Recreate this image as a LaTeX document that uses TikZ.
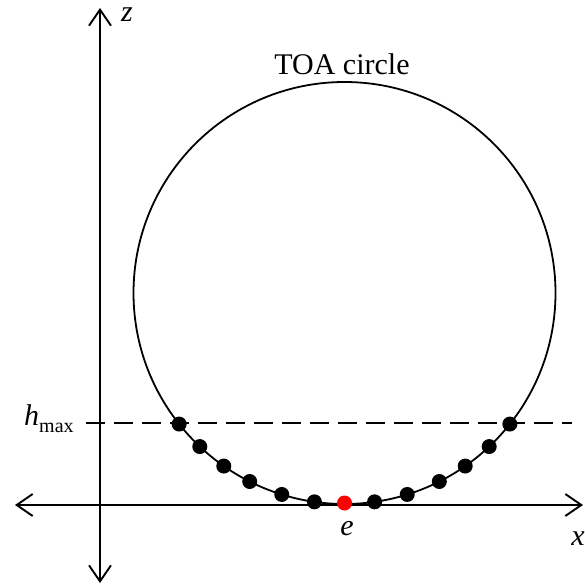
\documentclass[tikz,border=0pt]{standalone}
\usepackage{fontspec}
\setmainfont{Liberation Serif}
\usetikzlibrary{arrows.meta}
\begin{document}
\begin{tikzpicture}[x=1pt,y=-1pt,
  axisline/.style={line width=1.9pt,
    arrows={Straight Barb[length=16pt,width=22pt,line width=1.9pt]-Straight Barb[length=16pt,width=22pt,line width=1.9pt]}},
  dotnode/.style={circle,fill=black,inner sep=0pt,minimum size=15pt},
  reddot/.style={dotnode,fill=red},
  lbl/.style={font=\fontsize{30}{36}\selectfont,inner sep=0pt},
  hline/.style={line width=1.7pt,dash pattern=on 19pt off 9pt}]
\useasboundingbox (0,0) rectangle (584,588);
\coordinate (zt) at (100,8);
\coordinate (zb) at (100,583);
\coordinate (xl) at (15,505);
\coordinate (xr) at (583,505);
\coordinate (c) at (344.5,293);
\coordinate (d1) at (86,423);
\coordinate (d2) at (572,423);
\draw[axisline] (zb) -- (zt);
\draw[axisline] (xl) -- (xr);
\draw[hline] (d1) -- (d2);
\draw[line width=1.8pt] (c) circle (211pt);
\foreach \a [count=\i] in {8.2,17.3,26.7,34.9,43.3,51.6}{
  \node[dotnode] (r\i) at ([shift={(c)}]90-\a:211) {};
  \node[dotnode] (l\i) at ([shift={(c)}]90+\a:211) {};
}
\node[reddot] (e) at ([shift={(c)}]90:210) {};
\node[lbl,anchor=base] (toa) at (342,75) {TOA circle};
\node[lbl,anchor=base] (zlab) at (127,22) {\textit{z}};
\node[lbl,anchor=base] (elab) at (347,535) {\textit{e}};
\node[lbl,anchor=base] (xlab) at (578,545) {\textit{x}};
\node[lbl,anchor=base west] (hlab) at (24,425) {\textit{h}\raisebox{-7pt}{\fontsize{20}{24}\selectfont max}};
\end{tikzpicture}
\end{document}
